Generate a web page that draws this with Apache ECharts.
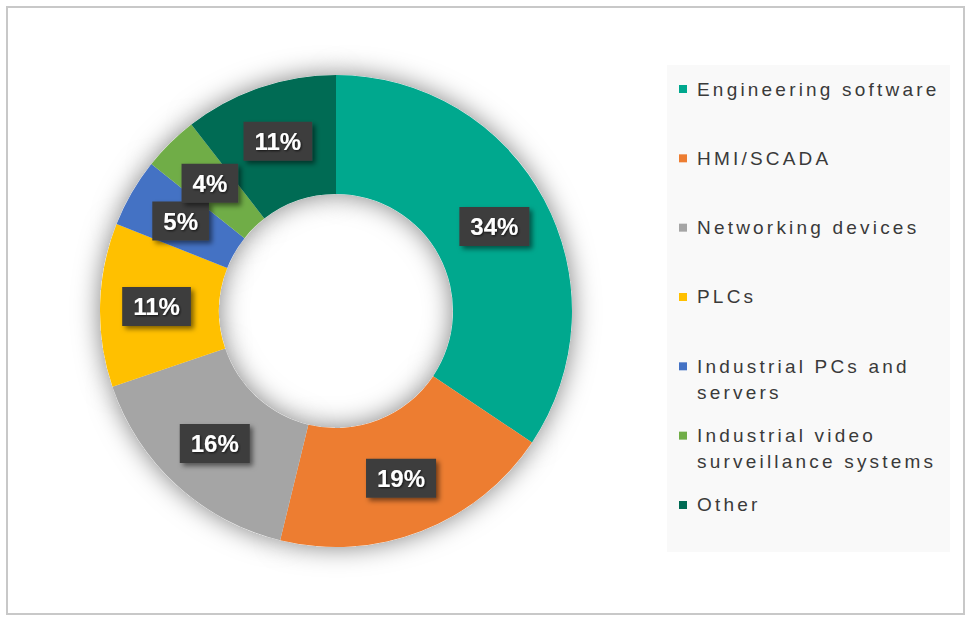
<!DOCTYPE html>
<html>
<head>
<meta charset="utf-8">
<script src="https://cdn.jsdelivr.net/npm/echarts@6/dist/echarts.min.js"></script>
<style>
html,body{margin:0;padding:0;background:#ffffff;}
#chart{width:971px;height:618px;}
#chart text[style*="19px"]{letter-spacing:3.2px;}
</style>
</head>
<body>
<div id="chart"></div>
<script>
const categories = ['Engineering software', 'HMI/SCADA', 'Networking devices', 'PLCs', 'Industrial PCs and servers', 'Industrial video surveillance systems', 'Other'];
const legendLabels = ['Engineering software', 'HMI/SCADA', 'Networking devices', 'PLCs', 'Industrial PCs and\nservers', 'Industrial video\nsurveillance systems', 'Other'];
const values = [34.4, 19.4, 16.0, 11.2, 4.7, 3.8, 10.5];
const colors = ['#00A88E', '#ED7D31', '#A5A5A5', '#FFC000', '#4472C4', '#70AD47', '#006B54'];

const data = categories.map((c, i) => ({ name: c, value: values[i] }));

const legendTop = 76, legendStep = 69.33, legendLineHeight = 26;
const legends = categories.map((c, i) => {
  const multi = legendLabels[i].indexOf('\n') >= 0;
  return {
    data: [c],
    orient: 'vertical',
    left: 679,
    top: legendTop + i * legendStep - (multi ? legendLineHeight : 0),
    padding: 0,
    itemWidth: 8,
    itemHeight: 8,
    icon: 'rect',
    selectedMode: false,
    // a leading empty line keeps the first text line level with the marker
    formatter: () => (multi ? '\n' : '') + legendLabels[i],
    textStyle: {
      fontFamily: '"Liberation Sans", Arial, sans-serif',
      fontSize: 19,
      color: '#3a3a3a',
      lineHeight: legendLineHeight,
      padding: [0, 0, 0, 5]
    }
  };
});

const chart = echarts.init(document.getElementById('chart'), null, { renderer: 'svg' });
chart.setOption({
  animation: false,
  color: colors,
  graphic: [
    { type: 'rect', z: 0, shape: { x: 7, y: 7, width: 957, height: 607 }, style: { fill: 'none', stroke: '#c8c8c8', lineWidth: 2 } },
    { type: 'rect', z: 0, shape: { x: 667, y: 65, width: 283, height: 487 }, style: { fill: '#f9f9f9' } }
  ],
  legend: legends,
  series: [
    {
      type: 'pie',
      center: [336, 311],
      radius: [117, 236],
      startAngle: 90,
      clockwise: true,
      avoidLabelOverlap: false,
      labelLayout: { hideOverlap: false },
      emphasis: { disabled: true },
      itemStyle: { borderWidth: 0 },
      labelLine: { show: false },
      label: {
        show: true,
        position: 'inside',
        formatter: p => Math.round(p.value) + '%',
        color: '#ffffff',
        fontFamily: '"Liberation Sans", Arial, sans-serif',
        fontWeight: 'bold',
        fontSize: 24,
        lineHeight: 27,
        backgroundColor: '#3d3d3d',
        padding: [6, 11, 6, 11],
        shadowColor: 'rgba(0,0,0,0.5)',
        shadowBlur: 5,
        shadowOffsetX: 3,
        shadowOffsetY: 3,
        textShadowColor: 'rgba(0,0,0,0.7)',
        textShadowBlur: 2,
        textShadowOffsetX: 1,
        textShadowOffsetY: 1
      },
      data: data,
      z: 3
    },
    {
      type: 'pie',
      center: [336, 311],
      radius: [117, 236],
      startAngle: 90,
      clockwise: true,
      silent: true,
      label: { show: false },
      labelLine: { show: false },
      itemStyle: { color: '#ffffff', shadowBlur: 26, shadowColor: 'rgba(0,0,0,0.5)' },
      data: data,
      z: 1
    }
  ]
});
</script>
</body>
</html>
